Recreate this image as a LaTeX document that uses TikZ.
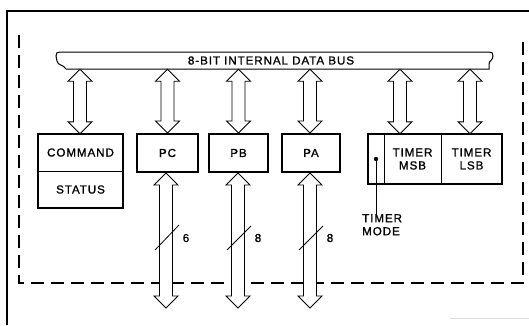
\documentclass[tikz,border=0pt]{standalone}
\usepackage{fontspec}
\setmainfont{Liberation Sans}[LetterSpace=8,FakeBold=1.2]
\usetikzlibrary{calc}
\newcommand\hollowarrow[2]{%
  \path[dblarrow] let \p1=(#1), \p2=(#2) in
    (\x1,\y1) -- (\x1+12pt,\y1-12pt) -- (\x1+6.5pt,\y1-12pt) -- (\x1+6.5pt,\y2+12pt)
    -- (\x1+12pt,\y2+12pt) -- (\x1,\y2) -- (\x1-12pt,\y2+12pt) -- (\x1-6.5pt,\y2+12pt)
    -- (\x1-6.5pt,\y1-12pt) -- (\x1-12pt,\y1-12pt) -- cycle;}
\begin{document}
\begin{tikzpicture}[x=1pt,y=-1pt,
  lbl/.style={font=\fontsize{11.6}{13}\selectfont, inner sep=0pt, align=center},
  regbox/.style={draw, line width=2pt, inner sep=0pt, font=\fontsize{11.6}{13}\selectfont, align=center},
  dblarrow/.style={draw, fill=white, line width=0.9pt, line join=miter},
  thinrule/.style={line width=1.2pt},
  slash/.style={line width=0.8pt}]
\useasboundingbox (0,0) rectangle (529,325);
% outer frame
\draw[line width=1.6pt] (7,325) -- (7,11) -- (529,11);
\draw[gray!25, line width=0.8pt] (450,318) -- (529,318);
% dashed frame
\draw[line width=1.2pt, dash pattern=on 13pt off 7pt] (19,35) -- (19,283) -- (523,283) -- (523,35);
% bus
\draw[line width=1pt] (66,69) .. controls (63,64) and (58,66) .. (57,61) -- (56,56)
  .. controls (56,53) and (57,52) .. (60,52) -- (489,52)
  .. controls (492,52) and (493,53) .. (493,56)
  .. controls (493,60) and (489,61) .. (489,64) -- (489,69) -- cycle;
\node[lbl, minimum height=17pt] (bus) at (271,60.5) {8-BIT INTERNAL DATA BUS};
% boxes
\node[inner sep=0pt, minimum width=85pt, minimum height=37pt, lbl] (cmd) at (80.5,152.5) {COMMAND};
\node[inner sep=0pt, minimum width=85pt, minimum height=37pt, lbl] (status) at (80.5,189.5) {STATUS};
\draw[line width=2pt] (cmd.north west) rectangle (status.south east);
\draw[thinrule] (cmd.south west) -- (cmd.south east);
\node[regbox, minimum width=61pt, minimum height=38pt] (pc) at (167.5,153) {PC};
\node[regbox, minimum width=59pt, minimum height=38pt] (pb) at (238.5,153) {PB};
\node[regbox, minimum width=58pt, minimum height=38pt] (pa) at (311,153) {PA};
\node[inner sep=0pt, minimum width=16pt, minimum height=50pt] (tmode) at (376,159) {};
\node[inner sep=0pt, minimum width=57pt, minimum height=50pt, lbl] (tmsb) at (412.5,159) {TIMER\\MSB};
\node[inner sep=0pt, minimum width=61pt, minimum height=50pt, lbl] (tlsb) at (471.5,159) {TIMER\\LSB};
\draw[line width=2pt] (tmode.north west) rectangle (tlsb.south east);
\draw[thinrule] (tmode.north east) -- (tmode.south east);
\draw[thinrule] (tmsb.north east) -- (tmsb.south east);
% timer mode
\coordinate (tdot) at (376,159);
\fill (tdot) circle (2.2pt);
\node[lbl, anchor=north west, align=left] (tmlabel) at (362,214) {TIMER\\MODE};
\draw[line width=0.8pt] (tdot) -- (tdot |- tmlabel.north);
% upper arrows
\hollowarrow{bus.south -| 80,0}{cmd.north -| 80,0}
\hollowarrow{bus.south -| pc.south}{pc.north -| 166,0}
\hollowarrow{bus.south -| pb.north}{pb.north}
\hollowarrow{bus.south -| 310,0}{pa.north}
\hollowarrow{bus.south -| 400,0}{tmsb.north}
\hollowarrow{bus.south -| 470,0}{tlsb.north}
% lower arrows
\coordinate (pcend) at (166,308);
\coordinate (pbend) at (238,308);
\coordinate (paend) at (310,308);
\hollowarrow{pc.south -| pcend}{pcend}
\hollowarrow{pb.south -| pbend}{pbend}
\hollowarrow{pa.south -| paend}{paend}
% slashes and widths
\draw[slash] (155,250) -- (179,225);
\draw[slash] (227,250) -- (251,226);
\draw[slash] (299,250) -- (323,226);
\node[lbl] (w6) at (186,238) {6};
\node[lbl] (w8b) at (258,238) {8};
\node[lbl] (w8a) at (330,238) {8};
\end{tikzpicture}
\end{document}
